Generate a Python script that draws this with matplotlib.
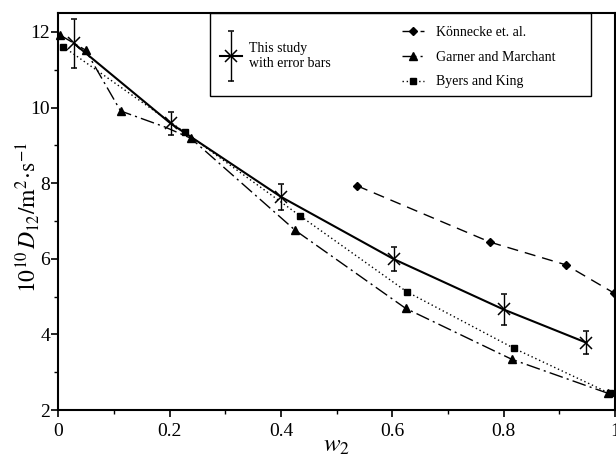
import numpy as np
import matplotlib
matplotlib.use("Agg")
import matplotlib.pyplot as plt
from matplotlib.patches import Rectangle
from matplotlib.ticker import MultipleLocator
from matplotlib.legend_handler import HandlerErrorbar
from matplotlib.container import ErrorbarContainer

plt.rcParams['font.family'] = ['Liberation Serif', 'DejaVu Serif']
plt.rcParams['mathtext.fontset'] = 'stix'

# this study (with error bars)
w_study = [0.028, 0.202, 0.40, 0.603, 0.80, 0.949]
d_study = [11.70, 9.58, 7.64, 5.99, 4.66, 3.78]
err_study = [0.65, 0.30, 0.35, 0.31, 0.41, 0.30]

# Koennecke et al.
w_kon = [0.537, 0.776, 0.912, 0.999]
d_kon = [7.93, 6.44, 5.84, 5.09]

# Garner and Marchant (the point at 0.191 is hidden under the cross, no marker)
w_gar = [0.003, 0.049, 0.112, 0.191, 0.238, 0.426, 0.624, 0.815, 0.988]
d_gar = [11.92, 11.52, 9.91, 9.49, 9.19, 6.75, 4.69, 3.34, 2.44]
gar_marked = [0, 1, 2, 4, 5, 6, 7, 8]

# Byers and King
w_byk = [0.009, 0.227, 0.435, 0.626, 0.819, 0.991]
d_byk = [11.61, 9.35, 7.13, 5.13, 3.63, 2.44]

fig = plt.figure(figsize=(6.16, 4.58), dpi=100)
ax = fig.add_axes([0.0946, 0.1048, 0.9035, 0.8675])

h_study = ax.errorbar(w_study, d_study, yerr=err_study, color='black', lw=1.5,
                      marker='x', ms=8, mew=1.1, capsize=2.5, elinewidth=1.0,
                      ecolor='black', zorder=4)
h_kon, = ax.plot(w_kon, d_kon, color='black', lw=1.0, ls=(0, (8, 5)),
                 marker='D', ms=4.5, clip_on=False)
h_gar, = ax.plot(w_gar, d_gar, color='black', lw=1.0, ls=(0, (10, 3, 1.5, 3)),
                 marker='^', ms=6, markevery=gar_marked, clip_on=False)
h_byk, = ax.plot(w_byk, d_byk, color='black', lw=1.0, ls=(0, (1, 2)),
                 marker='s', ms=5, clip_on=False)

ax.set_xlim(0, 1)
ax.set_ylim(2, 12.51)
ax.xaxis.set_minor_locator(MultipleLocator(0.1))
ax.yaxis.set_major_locator(MultipleLocator(2))
ax.yaxis.set_minor_locator(MultipleLocator(1))
ax.set_xticks([0, 0.2, 0.4, 0.6, 0.8, 1.0])
ax.set_xticklabels(['0', '0.2', '0.4', '0.6', '0.8', '1'])
ax.tick_params(which='major', direction='out', length=5, width=1.2, labelsize=14)
ax.tick_params(which='minor', direction='out', length=3, width=1.0)
ax.tick_params(axis='x', pad=4)
ax.tick_params(axis='y', pad=1)
for s in ax.spines.values():
    s.set_linewidth(1.5)

ax.set_xlabel(r'$w_2$', fontsize=18, labelpad=-3)
ax.set_ylabel(r'$10^{10}\,D_{12}/\mathrm{m}^2\!\cdot\!\mathrm{s}^{-1}$', fontsize=17)
ax.yaxis.set_label_coords(-0.030, 0.486)

# legend box around both legends
ax.add_patch(Rectangle((0.2726, 0.790), 0.685, 0.21, transform=ax.transAxes,
                       fill=False, lw=1.0, ec='black', zorder=5))
leg1 = ax.legend([h_study], ['This study\nwith error bars'], loc='center left',
                 bbox_to_anchor=(0.29, 0.892), frameon=False, fontsize=10,
                 handlelength=1.6, handletextpad=0.5, borderaxespad=0,
                 borderpad=0,
                 handler_map={ErrorbarContainer: HandlerErrorbar(yerr_size=1.8)})
ax.add_artist(leg1)
ax.legend([h_kon, h_gar, h_byk],
          ['Könnecke et. al.', 'Garner and Marchant', 'Byers and King'],
          loc='upper left', bbox_to_anchor=(0.618, 0.967), frameon=False,
          fontsize=10, handlelength=1.6, handletextpad=0.8, labelspacing=0.85,
          borderaxespad=0, borderpad=0)

fig.savefig('out.png', dpi=100)
